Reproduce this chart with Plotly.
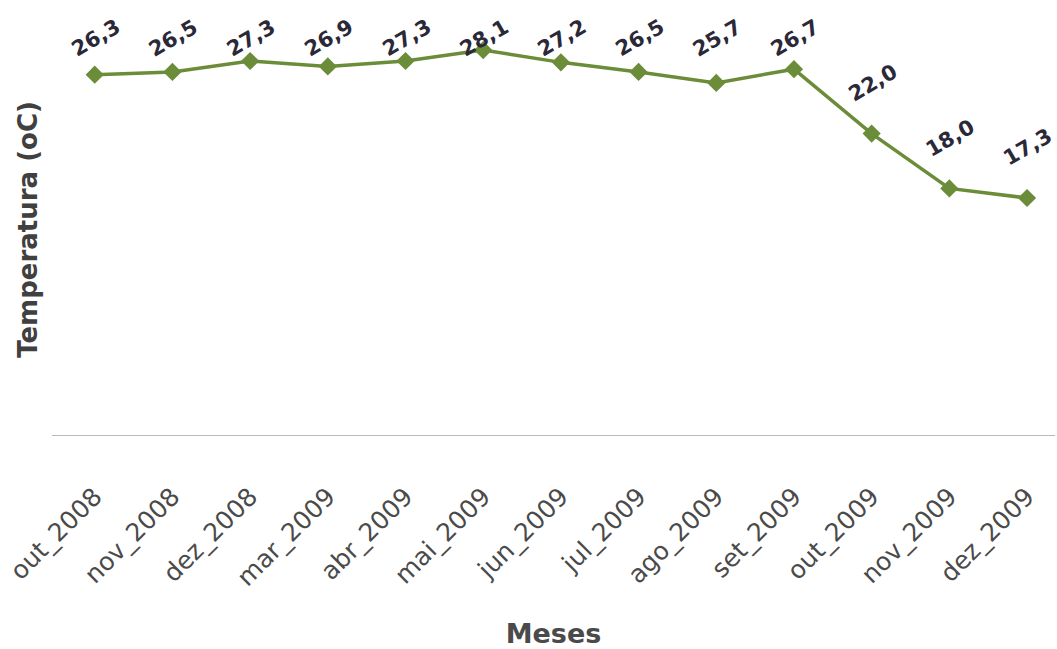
import plotly.graph_objects as go

# Monthly mean temperature series
meses = ["out_2008", "nov_2008", "dez_2008", "mar_2009", "abr_2009", "mai_2009",
         "jun_2009", "jul_2009", "ago_2009", "set_2009", "out_2009", "nov_2009", "dez_2009"]
temperatura = [26.3, 26.5, 27.3, 26.9, 27.3, 28.1, 27.2, 26.5, 25.7, 26.7, 22.0, 18.0, 17.3]

line_color = "#6b8c38"
label_color = "#2b2838"
font_family = "'DejaVu Sans', sans-serif"

Y_MAX = 30
LABEL_GAP = 3.7      # label offset above the point, in °C
LABEL_CEIL = 29.0    # labels near the top are kept below this level

fig = go.Figure()
fig.add_trace(go.Scatter(
    x=list(range(len(meses))),
    y=temperatura,
    mode="lines+markers",
    line=dict(color=line_color, width=3.5),
    marker=dict(symbol="diamond", size=14, color=line_color),
    hoverinfo="skip",
    showlegend=False,
))

# Value labels above each point (decimal comma), tilted
for i, v in enumerate(temperatura):
    fig.add_annotation(
        x=i, y=min(v + LABEL_GAP, LABEL_CEIL), xref="x", yref="y",
        text=f"{v:.1f}".replace(".", ","),
        showarrow=False, textangle=-30,
        xshift=1,
        font=dict(family=font_family, size=21, color=label_color, weight="bold"),
    )

fig.update_layout(
    width=1057, height=649,
    margin=dict(l=52, r=2, t=24, b=208),
    paper_bgcolor="white", plot_bgcolor="white",
    font=dict(family=font_family),
    xaxis=dict(
        tickmode="array",
        tickvals=list(range(len(meses))),
        ticktext=meses,
        range=[-0.55, 12.36],
        tickangle=-45,
        tickfont=dict(size=25, color="#4a4a4a"),
        ticks="",
        ticklabelstandoff=36,
        showgrid=False,
        showline=True, linecolor="#b8b8b8", linewidth=1,
        zeroline=False,
        title=dict(text="Meses", font=dict(size=27, color="#4a4a4a", weight="bold"), standoff=36),
    ),
    yaxis=dict(
        range=[0, Y_MAX],
        showticklabels=False,
        showgrid=False, zeroline=False, showline=False, ticks="",
        title=dict(text="Temperatura (oC)", font=dict(size=26, color="#404040", weight="bold"), standoff=5),
    ),
)

fig.write_html("out.html")
